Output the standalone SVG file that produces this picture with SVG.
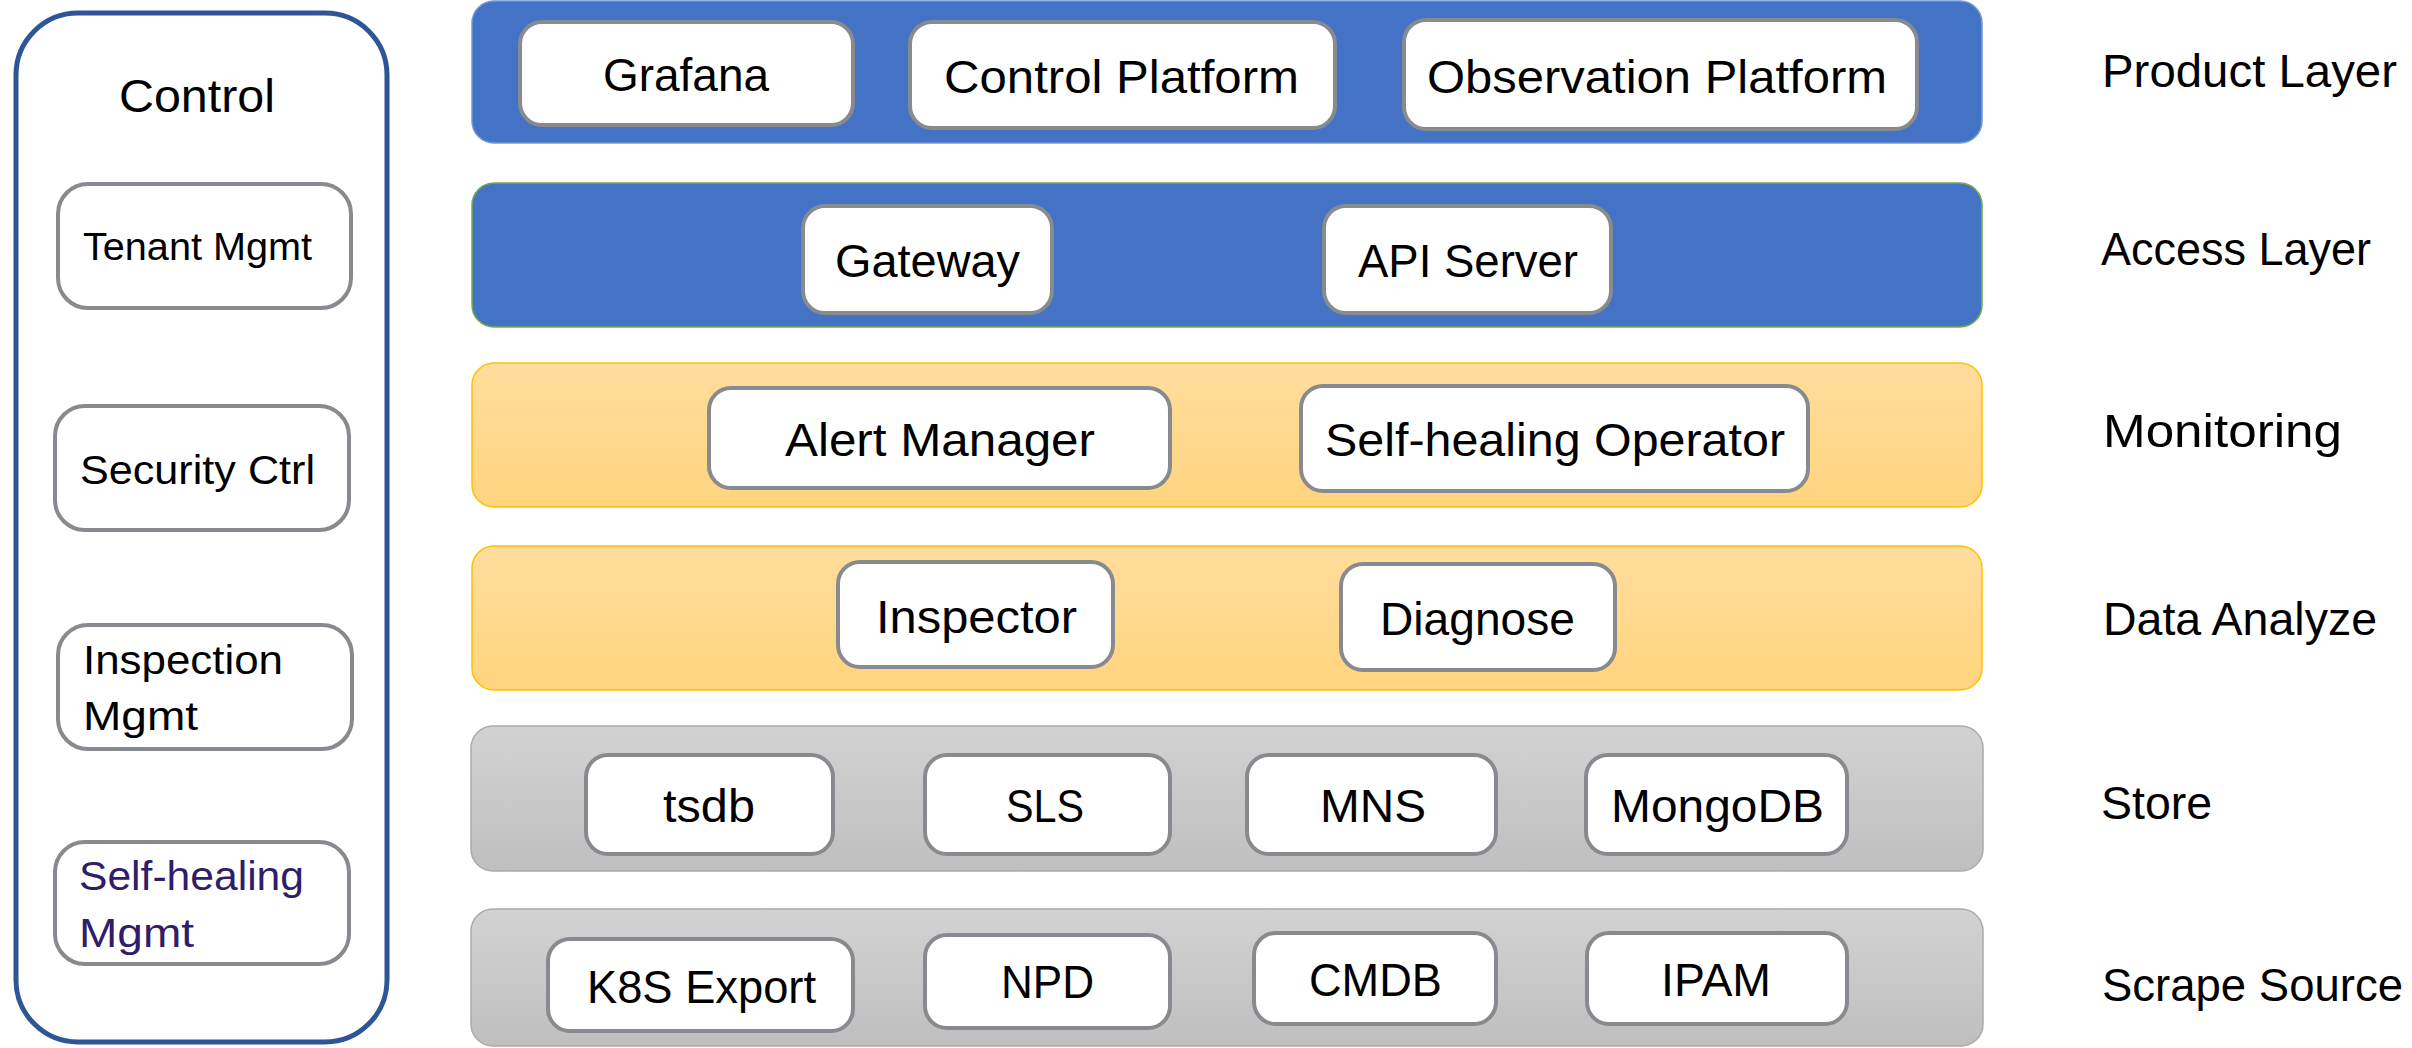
<svg xmlns="http://www.w3.org/2000/svg" width="2412" height="1048" viewBox="0 0 2412 1048">
<defs>
<linearGradient id="gYellow" x1="0" y1="0" x2="0" y2="1"><stop offset="0" stop-color="#FFDD9D"/><stop offset="1" stop-color="#FFD47E"/></linearGradient>
<linearGradient id="gGray" x1="0" y1="0" x2="0" y2="1"><stop offset="0" stop-color="#D2D2D2"/><stop offset="1" stop-color="#BFBFBF"/></linearGradient>
<style>
text{font-family:"Liberation Sans",Arial,sans-serif;fill:#000}
.box{fill:#fff;stroke:#878A8F;stroke-width:4}
.lbl{font-size:46px}
.side{font-size:40px}
.layer{font-size:47px}
.bandBlue{fill:#4472C4}
.bandYellow{fill:url(#gYellow);stroke:#FFC000;stroke-width:1.5}
.bandGray{fill:url(#gGray);stroke:#ABABAB;stroke-width:1.5}
</style>
</defs>
<rect width="2412" height="1048" fill="#fff"/>

<g id="control">
<rect x="16" y="13" width="371" height="1029" rx="62" fill="#fff" stroke="#2F5597" stroke-width="5"/>
<text x="119" y="112" font-size="46" textLength="156" lengthAdjust="spacingAndGlyphs">Control</text>
</g>
<g id="tenant-mgmt">
<rect class="box" x="58" y="184" width="293" height="124" rx="30"/>
<text x="83" y="260" textLength="229" lengthAdjust="spacingAndGlyphs" style="font-size:38px">Tenant Mgmt</text>
</g>
<g id="security-ctrl">
<rect class="box" x="55" y="406" width="294" height="124" rx="30"/>
<text class="side" x="80" y="484" textLength="235" lengthAdjust="spacingAndGlyphs">Security Ctrl</text>
</g>
<g id="inspection-mgmt">
<rect class="box" x="58" y="625" width="294" height="124" rx="30"/>
<text class="side" x="83" y="674" textLength="200" lengthAdjust="spacingAndGlyphs">Inspection</text>
<text class="side" x="83" y="730" textLength="115" lengthAdjust="spacingAndGlyphs">Mgmt</text>
</g>
<g id="self-healing-mgmt">
<rect class="box" x="55" y="842" width="294" height="122" rx="30"/>
<text class="side" x="79" y="890" textLength="225" lengthAdjust="spacingAndGlyphs" style="fill:#2F1C6B">Self-healing</text>
<text class="side" x="79" y="947" textLength="115" lengthAdjust="spacingAndGlyphs" style="fill:#2F1C6B">Mgmt</text>
</g>

<g id="product-layer">
<rect class="bandBlue" x="472" y="1" width="1510" height="142" rx="22" stroke="#6E9BDA" stroke-width="1.5"/>
<text class="layer" x="2102" y="87" textLength="295" lengthAdjust="spacingAndGlyphs">Product Layer</text>
</g>
<g id="access-layer">
<rect class="bandBlue" x="472" y="183" width="1510" height="144" rx="22" stroke="#70AD47" stroke-width="1.5"/>
<text class="layer" x="2101" y="265" textLength="270" lengthAdjust="spacingAndGlyphs">Access Layer</text>
</g>
<g id="monitoring">
<rect class="bandYellow" x="472" y="363" width="1510" height="144" rx="22"/>
<text class="layer" x="2103" y="447" textLength="239" lengthAdjust="spacingAndGlyphs">Monitoring</text>
</g>
<g id="data-analyze">
<rect class="bandYellow" x="472" y="546" width="1510" height="144" rx="22"/>
<text class="layer" x="2103" y="635" textLength="274" lengthAdjust="spacingAndGlyphs">Data Analyze</text>
</g>
<g id="store">
<rect class="bandGray" x="471" y="726" width="1512" height="145" rx="22"/>
<text class="layer" x="2101" y="819" textLength="111" lengthAdjust="spacingAndGlyphs">Store</text>
</g>
<g id="scrape-source">
<rect class="bandGray" x="471" y="909" width="1512" height="137" rx="22"/>
<text class="layer" x="2102" y="1001" textLength="301" lengthAdjust="spacingAndGlyphs">Scrape Source</text>
</g>

<g id="grafana"><rect class="box" x="520" y="22" width="333" height="103" rx="22"/><text class="lbl" x="603" y="91" textLength="166" lengthAdjust="spacingAndGlyphs">Grafana</text></g>
<g id="control-platform"><rect class="box" x="910" y="22" width="425" height="106" rx="22"/><text class="lbl" x="944" y="93" textLength="355" lengthAdjust="spacingAndGlyphs">Control Platform</text></g>
<g id="observation-platform"><rect class="box" x="1404" y="20" width="513" height="109" rx="22"/><text class="lbl" x="1427" y="93" textLength="460" lengthAdjust="spacingAndGlyphs">Observation Platform</text></g>
<g id="gateway"><rect class="box" x="803" y="206" width="249" height="107" rx="22"/><text class="lbl" x="835" y="277" textLength="185" lengthAdjust="spacingAndGlyphs">Gateway</text></g>
<g id="api-server"><rect class="box" x="1324" y="206" width="287" height="107" rx="22"/><text class="lbl" x="1358" y="277" textLength="220" lengthAdjust="spacingAndGlyphs">API Server</text></g>
<g id="alert-manager"><rect class="box" x="709" y="388" width="461" height="100" rx="22"/><text class="lbl" x="785" y="456" textLength="310" lengthAdjust="spacingAndGlyphs">Alert Manager</text></g>
<g id="self-healing-operator"><rect class="box" x="1301" y="386" width="507" height="105" rx="22"/><text class="lbl" x="1325" y="456" textLength="460" lengthAdjust="spacingAndGlyphs">Self-healing Operator</text></g>
<g id="inspector"><rect class="box" x="838" y="562" width="275" height="105" rx="22"/><text class="lbl" x="876" y="633" textLength="201" lengthAdjust="spacingAndGlyphs">Inspector</text></g>
<g id="diagnose"><rect class="box" x="1341" y="564" width="274" height="106" rx="22"/><text class="lbl" x="1380" y="635" textLength="195" lengthAdjust="spacingAndGlyphs">Diagnose</text></g>
<g id="tsdb"><rect class="box" x="586" y="755" width="247" height="99" rx="22"/><text class="lbl" x="663" y="822" textLength="92" lengthAdjust="spacingAndGlyphs">tsdb</text></g>
<g id="sls"><rect class="box" x="925" y="755" width="245" height="99" rx="22"/><text class="lbl" x="1006" y="822" textLength="78" lengthAdjust="spacingAndGlyphs">SLS</text></g>
<g id="mns"><rect class="box" x="1247" y="755" width="249" height="99" rx="22"/><text class="lbl" x="1320" y="822" textLength="106" lengthAdjust="spacingAndGlyphs">MNS</text></g>
<g id="mongodb"><rect class="box" x="1586" y="755" width="261" height="99" rx="22"/><text class="lbl" x="1611" y="822" textLength="213" lengthAdjust="spacingAndGlyphs">MongoDB</text></g>
<g id="k8s-export"><rect class="box" x="548" y="939" width="305" height="92" rx="22"/><text class="lbl" x="587" y="1003" textLength="229" lengthAdjust="spacingAndGlyphs">K8S Export</text></g>
<g id="npd"><rect class="box" x="925" y="935" width="245" height="93" rx="22"/><text class="lbl" x="1001" y="998" textLength="93" lengthAdjust="spacingAndGlyphs">NPD</text></g>
<g id="cmdb"><rect class="box" x="1254" y="933" width="242" height="91" rx="22"/><text class="lbl" x="1309" y="996" textLength="133" lengthAdjust="spacingAndGlyphs">CMDB</text></g>
<g id="ipam"><rect class="box" x="1587" y="933" width="260" height="91" rx="22"/><text class="lbl" x="1661" y="996" textLength="110" lengthAdjust="spacingAndGlyphs">IPAM</text></g>

<g id="connectors"></g>
</svg>
